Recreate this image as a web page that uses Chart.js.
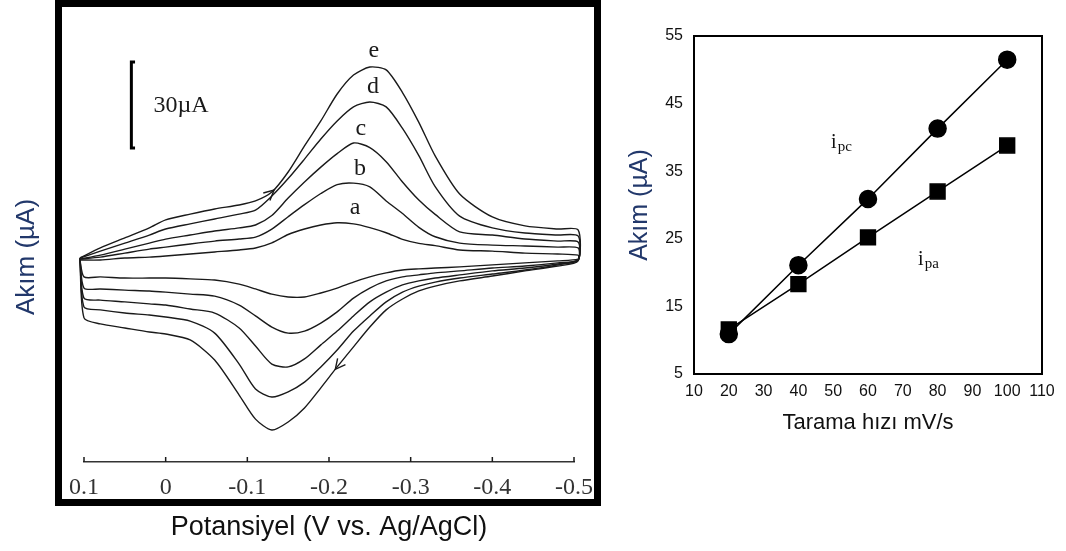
<!DOCTYPE html>
<html>
<head>
<meta charset="utf-8">
<title>Akım grafikleri</title>
<script src="https://cdn.jsdelivr.net/npm/chart.js@4.4.0/dist/chart.umd.min.js"></script>
<style>
  html, body { margin: 0; padding: 0; background: #fff; }
  #page { position: relative; width: 1066px; height: 551px; overflow: hidden; }
  canvas { position: absolute; top: 0; }
  #cv { left: 0; }
  #rate { left: 600px; }
  #frame {
    position: absolute; left: 55px; top: 0; width: 546px; height: 506px;
    border: 7px solid #000; box-sizing: border-box; pointer-events: none;
  }
</style>
</head>
<body>
<div id="page">
  <canvas id="cv" width="610" height="551"></canvas>
  <canvas id="rate" width="466" height="551"></canvas>
  <div id="frame"></div>
</div>
<script>
// --- voltammogram: potential grid (V) for the forward and the return scan
const upperE = [0.105, 0.08, 0.05, 0.02, 0, -0.03, -0.06, -0.09, -0.11, -0.13, -0.15, -0.17, -0.19,
  -0.21, -0.23, -0.25, -0.27, -0.29, -0.31, -0.33, -0.36, -0.40, -0.44, -0.48, -0.505];
const lowerE = [-0.505, -0.48, -0.44, -0.40, -0.36, -0.33, -0.31, -0.29, -0.27, -0.25, -0.23, -0.21,
  -0.19, -0.17, -0.15, -0.13, -0.11, -0.09, -0.06, -0.03, 0, 0.02, 0.05, 0.08, 0.10];

const aUpper = [0, 0, 0.7, 1.0, 1.4, 2.1, 2.8, 3.5, 4.2, 6.0, 8.9, 10.8, 12.2, 13.0, 12.6, 11.3, 9.5, 7.2, 5.8, 5.0, 3.5, 3.1, 2.4, 2.1, 1.7];
const aLower = [0.3, -0.3, -1.0, -1.7, -2.4, -2.8, -3.1, -3.5, -4.5, -5.9, -7.7, -9.8, -11.5, -12.9, -12.9, -11.9, -10.1, -8.4, -7.0, -6.6, -6.3, -6.3, -6.3, -5.9, -5.9];
const bUpper = [0.3, 1.0, 2.4, 3.8, 4.5, 5.6, 6.6, 7.3, 8.0, 10.8, 15.1, 19.3, 23.2, 26.3, 26.8, 25.5, 20.6, 16.2, 11.4, 8.1, 5.9, 5.2, 4.9, 4.5, 4.2];
const bLower = [0, -1.0, -2.1, -2.8, -3.8, -4.5, -5.2, -5.9, -7.3, -9.8, -13.3, -18.1, -22.0, -24.8, -25.5, -23.4, -19.5, -15.7, -12.6, -11.9, -11.2, -10.8, -10.5, -10.1, -9.8];
const cUpper = [0.3, 1.7, 3.8, 5.9, 7.3, 8.7, 10.1, 11.2, 12.2, 15.5, 21.6, 27.2, 32.4, 37.1, 40.8, 39.2, 34.3, 27.2, 20.9, 15.9, 9.8, 8.7, 7.3, 6.6, 6.3];
const cLower = [0, -1.4, -2.8, -3.8, -5.2, -6.3, -7.3, -8.7, -11.2, -14.6, -19.5, -24.8, -29.6, -34.5, -37.3, -36.3, -30.0, -23.7, -18.5, -17.1, -15.7, -15.3, -14.6, -14.0, -13.3];
const dUpper = [0.7, 3.1, 5.9, 8.7, 10.8, 12.6, 14.3, 16.0, 17.4, 22.3, 28.4, 35.2, 42.2, 48.5, 53.4, 55.1, 53.4, 45.9, 36.4, 25.6, 15.3, 11.2, 9.4, 8.7, 8.4];
const dLower = [0, -1.7, -3.5, -4.9, -6.3, -7.7, -9.1, -11.2, -14.6, -19.5, -24.8, -31.4, -37.3, -42.6, -46.0, -47.8, -45.0, -36.3, -25.5, -21.3, -19.9, -19.2, -18.5, -17.4, -16.4];
const eUpper = [0.7, 4.2, 7.7, 11.2, 14.0, 16.0, 17.8, 19.2, 20.6, 23.7, 30.7, 39.8, 48.5, 57.9, 64.5, 67.3, 66.3, 58.4, 48.0, 36.3, 23.0, 15.0, 11.9, 10.8, 10.5];
const eLower = [-0.3, -2.1, -3.8, -5.6, -7.3, -9.1, -10.8, -13.6, -17.4, -23.4, -30.3, -37.3, -44.6, -51.6, -56.5, -59.3, -55.5, -47.1, -34.9, -27.9, -25.8, -25.1, -23.7, -22.3, -20.2];

const curveNames = ['a', 'b', 'c', 'd', 'e'];
const upperSets = [aUpper, bUpper, cUpper, dUpper, eUpper];
const lowerSets = [aLower, bLower, cLower, dLower, eLower];

// 30 uA scale bar
const scaleBarE = [0.0375, 0.042, 0.042, 0.0375];
const scaleBarI = [69.1, 69.1, 39.1, 39.1];

// --- scan rate plot
const scanRate = [20, 40, 60, 80, 100];
const ipc = [10.9, 21.1, 30.9, 41.3, 51.5];
const ipa = [11.6, 18.3, 25.2, 32.0, 38.8];

// annotation anchors (data units)
const curveLabelPos = [
  { E: -0.232, I: 18.1 }, { E: -0.238, I: 31.7 }, { E: -0.239, I: 45.7 },
  { E: -0.254, I: 60.3 }, { E: -0.255, I: 72.9 }
];
const scaleBarText = { text: '30µA', E: 0.015, I: 53.7 };
const arrowMarks = [{ curve: 4, index: 9 }, { curve: 4, index: 36 }];
const rateLabels = [
  { main: 'i', sub: 'pc', x: 49.4, y: 38.4 },
  { main: 'i', sub: 'pa', x: 74.4, y: 21.1 }
];

const ink = '#1a1a1a';
const navy = '#22386b';

function loop(upper, lower) {
  const pts = upperE.map((e, i) => ({ x: e, y: upper[i] }));
  lowerE.forEach((e, i) => pts.push({ x: e, y: lower[i] }));
  pts.push({ x: upperE[0], y: upper[0] });
  return pts;
}

function fmtE(v) {
  const r = Math.round(v * 10) / 10;
  return r === 0 ? '0' : r.toFixed(1);
}

const cvMarks = {
  id: 'cvMarks',
  afterDatasetsDraw(chart) {
    const { ctx, scales: { x, y }, chartArea } = chart;
    ctx.save();
    ctx.fillStyle = ink;
    ctx.strokeStyle = ink;

    // small tick marks pointing up from the axis
    ctx.lineWidth = 1.5;
    x.ticks.forEach(t => {
      const px = x.getPixelForValue(t.value);
      ctx.beginPath();
      ctx.moveTo(px, chartArea.bottom);
      ctx.lineTo(px, chartArea.bottom - 5);
      ctx.stroke();
    });

    ctx.font = '24px "Liberation Serif"';
    ctx.textAlign = 'center';
    ctx.textBaseline = 'middle';
    curveLabelPos.forEach((p, i) => {
      ctx.fillText(curveNames[i], x.getPixelForValue(p.E), y.getPixelForValue(p.I));
    });
    ctx.textAlign = 'left';
    ctx.fillText(scaleBarText.text, x.getPixelForValue(scaleBarText.E), y.getPixelForValue(scaleBarText.I));

    // direction arrows on the outer curve
    ctx.lineWidth = 1.4;
    arrowMarks.forEach(m => {
      const pts = chart.getDatasetMeta(m.curve).data;
      const p = pts[m.index], a = pts[m.index - 1], b = pts[m.index + 1];
      let dx = b.x - a.x, dy = b.y - a.y;
      const len = Math.hypot(dx, dy);
      dx /= len; dy /= len;
      const tx = p.x + dx * 3, ty = p.y + dy * 3;
      ctx.beginPath();
      ctx.moveTo(tx - dx * 10 - dy * 5, ty - dy * 10 + dx * 5);
      ctx.lineTo(tx, ty);
      ctx.lineTo(tx - dx * 10 + dy * 5, ty - dy * 10 - dx * 5);
      ctx.stroke();
    });
    ctx.restore();
  }
};

const cvDatasets = upperSets.map((u, i) => ({
  label: curveNames[i],
  data: loop(u, lowerSets[i]),
  showLine: true,
  borderColor: ink,
  borderWidth: 1.4,
  pointRadius: 0,
  tension: 0.25,
  fill: false,
  clip: false
}));
cvDatasets.push({
  label: 'scale',
  data: scaleBarE.map((e, i) => ({ x: e, y: scaleBarI[i] })),
  showLine: true,
  borderColor: '#000',
  borderWidth: 3,
  pointRadius: 0,
  tension: 0,
  clip: false
});

new Chart(document.getElementById('cv'), {
  type: 'scatter',
  data: { datasets: cvDatasets },
  options: {
    responsive: false,
    animation: false,
    events: [],
    layout: { padding: { left: 0, right: 36, top: 52, bottom: 0 } },
    plugins: { legend: { display: false }, tooltip: { enabled: false } },
    scales: {
      x: {
        type: 'linear', min: -0.5, max: 0.1, reverse: true,
        afterFit: s => { s.height = 89; },
        grid: { display: false, drawTicks: false },
        border: { display: true, color: '#333', width: 1.5 },
        ticks: {
          stepSize: 0.1, padding: 11, autoSkip: false, maxRotation: 0,
          color: '#333', font: { family: 'Liberation Serif', size: 24 },
          callback: v => fmtE(v)
        },
        title: {
          display: true, text: 'Potansiyel (V vs. Ag/AgCl)', color: '#111',
          font: { family: 'Liberation Sans', size: 27 }, padding: { top: 0, bottom: 7 }
        }
      },
      y: {
        type: 'linear', min: -70.46, max: 72.55,
        afterFit: s => { s.width = 84; },
        grid: { display: false },
        border: { display: false },
        ticks: { display: false },
        title: {
          display: true, text: 'Akım (µA)', color: navy,
          font: { family: 'Liberation Sans', size: 26 }, padding: { top: 11, bottom: 0 }
        }
      }
    }
  },
  plugins: [cvMarks]
});

const rateMarks = {
  id: 'rateMarks',
  afterDatasetsDraw(chart) {
    const { ctx, chartArea, scales: { x, y } } = chart;
    ctx.save();
    ctx.strokeStyle = '#000';
    ctx.lineWidth = 2;
    ctx.strokeRect(chartArea.left, chartArea.top, chartArea.right - chartArea.left, chartArea.bottom - chartArea.top);
    ctx.fillStyle = '#111';
    ctx.textBaseline = 'alphabetic';
    ctx.textAlign = 'left';
    rateLabels.forEach(l => {
      const px = x.getPixelForValue(l.x), py = y.getPixelForValue(l.y);
      ctx.font = '20px "Liberation Serif"';
      ctx.fillText(l.main, px, py);
      const w = ctx.measureText(l.main).width;
      ctx.font = '15px "Liberation Serif"';
      ctx.fillText(l.sub, px + w + 1, py + 3);
    });
    ctx.restore();
  }
};

new Chart(document.getElementById('rate'), {
  type: 'scatter',
  data: {
    datasets: [
      {
        label: 'ipc',
        data: scanRate.map((r, i) => ({ x: r, y: ipc[i] })),
        showLine: true, borderColor: '#000', borderWidth: 1.5,
        pointStyle: 'circle', pointRadius: 8.5,
        pointBackgroundColor: '#000', pointBorderColor: '#000'
      },
      {
        label: 'ipa',
        data: scanRate.map((r, i) => ({ x: r, y: ipa[i] })),
        showLine: true, borderColor: '#000', borderWidth: 1.5,
        pointStyle: 'rect', pointRadius: 10.5,
        pointBackgroundColor: '#000', pointBorderColor: '#000'
      }
    ]
  },
  options: {
    responsive: false,
    animation: false,
    events: [],
    layout: { padding: { left: 0, right: 24, top: 36, bottom: 97 } },
    plugins: { legend: { display: false }, tooltip: { enabled: false } },
    scales: {
      x: {
        type: 'linear', min: 10, max: 110,
        afterFit: s => { s.height = 80; },
        grid: { display: false, drawTicks: false },
        border: { display: false },
        ticks: {
          stepSize: 10, padding: 8, autoSkip: false, maxRotation: 0,
          color: '#111', font: { family: 'Liberation Sans', size: 16 }
        },
        title: {
          display: true, text: 'Tarama hızı mV/s', color: '#111',
          font: { family: 'Liberation Sans', size: 22 }, padding: { top: 0, bottom: 18 }
        }
      },
      y: {
        type: 'linear', min: 5, max: 55,
        afterFit: s => { s.width = 94; },
        grid: { display: false, drawTicks: false },
        border: { display: false },
        ticks: {
          stepSize: 10, padding: 11,
          color: '#111', font: { family: 'Liberation Sans', size: 16 }
        },
        title: {
          display: true, text: 'Akım (µA)', color: navy,
          font: { family: 'Liberation Sans', size: 25 }, padding: { top: 25, bottom: 0 }
        }
      }
    }
  },
  plugins: [rateMarks]
});
</script>
</body>
</html>
